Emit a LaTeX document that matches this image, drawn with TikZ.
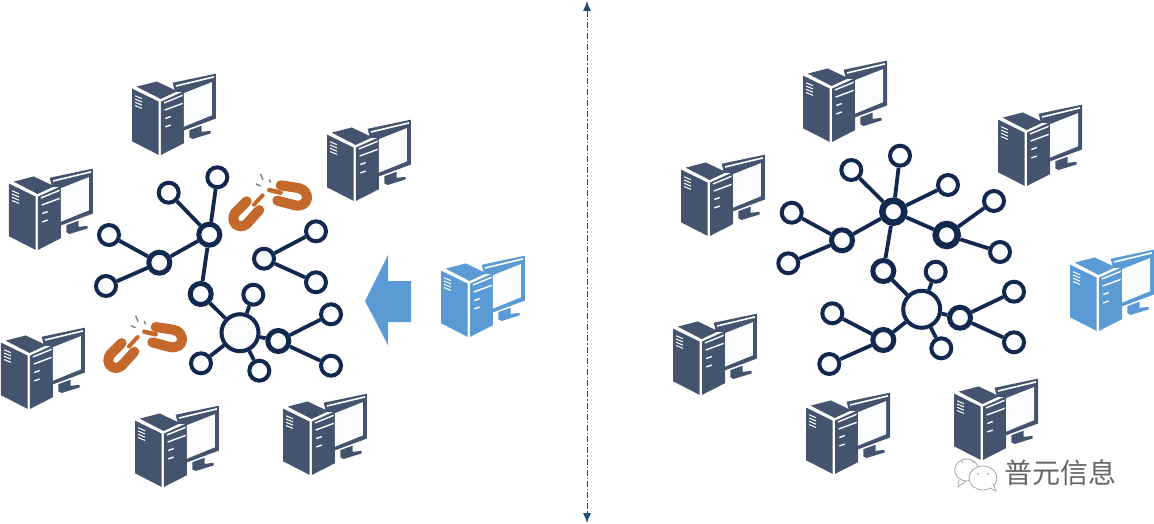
\documentclass[tikz,border=0pt]{standalone}
\usepackage{fontspec}
\newfontfamily\cjkfont{Noto Sans CJK SC}
\usetikzlibrary{arrows.meta}
\definecolor{navy}{HTML}{12284F}
\definecolor{slate}{HTML}{44546F}
\definecolor{skyb}{HTML}{5B9BD5}
\definecolor{rust}{HTML}{C4692B}
\definecolor{inner}{HTML}{FBFCFE}
\definecolor{divider}{HTML}{1F4E79}
\tikzset{
  netnode/.style={circle,draw=navy,fill=inner,line width=4pt,minimum size=20pt,inner sep=0pt},
  hubnode/.style={netnode,minimum size=21pt,line width=5pt},
  thicknode/.style={netnode,minimum size=22pt,line width=6.5pt},
  bignode/.style={netnode,minimum size=37pt,line width=4pt},
  netlink/.style={draw=navy,line width=3.8pt},
  computer/.pic={
    \begin{scope}[x=0.3333pt,y=-0.325pt]
      % tower
      \fill[pic actions] (36,88) -- (116,128) -- (116,292) -- (36,250) -- cycle;
      \fill[pic actions] (50,82) -- (110,66) -- (172,96) -- (122,120) -- cycle;
      \fill[pic actions] (123,128) -- (192,96) -- (192,256) -- (123,292) -- cycle;
      \foreach \yy in {110,120,130,140}
        \draw[white,line width=1pt] (45,\yy) -- (66,\yy+9);
      \draw[white,line width=1.4pt] (132,132) -- (192,107);
      \draw[white,line width=1.4pt] (134,154) -- (192,132);
      \draw[white,line width=1.4pt] (136,180) -- (152,174);
      \draw[white,line width=1.4pt] (136,206) -- (152,200);
      % monitor
      \fill[pic actions] (158,70) -- (288,42) -- (288,180) -- (188,218) -- (188,98) -- (165,98) -- cycle;
      \draw[white,line width=1.6pt] (168,80) -- (282,52);
      \fill[inner] (192,102) -- (276,68) -- (276,170) -- (192,205) -- cycle;
      \fill[pic actions] (208,216) -- (245,202) -- (245,221) -- (272,218) -- (272,226) -- (218,243) -- (208,238) -- cycle;
    \end{scope}
  },
  chainlink/.pic={
    \begin{scope}[x=0.3333pt,y=-0.3333pt]
      \draw[rust,line width=10pt,line cap=round] (470,124) -- (436,158) .. controls (418,184) and (445,212) .. (470,192) -- (508,150);
      \draw[rust,line width=4pt,line cap=round] (492,134) -- (518,106);
      \draw[rust,line width=10pt,line cap=round] (572,76) -- (625,84) .. controls (664,92) and (658,144) .. (615,136) -- (562,122);
      \draw[rust,line width=4.5pt,line cap=round] (538,90) -- (572,98);
      \draw[gray,line width=1.4pt] (512,42) -- (519,60);
      \draw[gray,line width=1.4pt] (498,72) -- (512,78);
      \draw[gray,line width=1.4pt] (538,58) -- (542,68);
    \end{scope}
  }
}
\begin{document}
\begin{tikzpicture}[x=1pt,y=-1pt]
\useasboundingbox (0,0) rectangle (1154,524);
% computers (origin = crop corner)
\foreach \cx/\cy in {120/60,315/106,-3/155,-11/314,123/392,271/380,791/47,986/91,669/141,661/300,794/379,942/365}
  \pic[fill=slate] at (\cx,\cy) {computer};
\foreach \cx/\cy in {429/242,1058/236}
  \pic[fill=skyb] at (\cx,\cy) {computer};
% left network
\node[netnode] (la) at (217.3,177.3) {};
\node[netnode] (lb) at (168.7,192.7) {};
\node[hubnode] (lc) at (209.3,234.7) {};
\node[netnode] (ld) at (109,235) {};
\node[hubnode] (le) at (159.3,262.7) {};
\node[netnode] (lf) at (106,286) {};
\node[hubnode] (lg) at (200.7,294) {};
\node[bignode] (lh) at (240,332.7) {};
\node[netnode] (li) at (253.3,294.7) {};
\node[hubnode] (lj) at (278.3,341) {};
\node[netnode] (lk) at (331,314.3) {};
\node[netnode] (ll) at (331,365.7) {};
\node[netnode] (lm) at (201,363.3) {};
\node[netnode] (ln) at (259.3,370.7) {};
\node[netnode] (lo) at (264,258.7) {};
\node[netnode] (lp) at (316,231.3) {};
\node[netnode] (lq) at (316,282.3) {};
\foreach \s/\t in {lc/la,lc/lb,lc/le,lc/lg,le/ld,le/lf,lg/lh,lh/li,lh/lj,lh/lm,lh/ln,lj/lk,lj/ll,lo/lp,lo/lq}
  \draw[netlink] (\s) -- (\t);
% right network
\node[netnode] (ra) at (900,155.7) {};
\node[netnode] (rb) at (851.3,170) {};
\node[thicknode] (rc) at (893.3,211.7) {};
\node[netnode] (rd) at (948,185) {};
\node[thicknode] (re) at (946.7,235) {};
\node[netnode] (rf) at (994,201) {};
\node[netnode] (rg) at (1000,252) {};
\node[netnode] (rh) at (791.7,212.7) {};
\node[hubnode] (ri) at (842,240.3) {};
\node[netnode] (rj) at (788.3,263.3) {};
\node[hubnode] (rk) at (883.3,271) {};
\node[bignode] (rl) at (921.7,309.3) {};
\node[netnode] (rm) at (935.7,271.7) {};
\node[hubnode] (rn) at (960,317.7) {};
\node[netnode] (ro) at (1014,291.7) {};
\node[netnode] (rp) at (1014,342.3) {};
\node[hubnode] (rq) at (883.3,340) {};
\node[netnode] (rr) at (832.3,313.3) {};
\node[netnode] (rs) at (829.3,364) {};
\node[netnode] (rt) at (941.3,348.3) {};
\foreach \s/\t in {rc/ra,rc/rb,rc/rd,rc/re,rc/ri,rc/rk,re/rf,re/rg,ri/rh,ri/rj,rk/rl,rl/rm,rl/rn,rl/rq,rl/rt,rn/ro,rn/rp,rq/rr,rq/rs}
  \draw[netlink] (\s) -- (\t);
% broken chains
\pic at (90,160) {chainlink};
\pic at (-35,301.7) {chainlink};
% block arrow
\fill[skyb] (411,281) -- (388,281) -- (388,255) -- (365,301) -- (388,345) -- (388,322) -- (411,322) -- cycle;
% divider
\coordinate (dtop) at (587,1);
\coordinate (dbot) at (587,523);
\draw[divider,line width=0.9pt,dash pattern=on 6pt off 2pt on 1.2pt off 2pt,{Latex[length=10pt,width=8pt]}-{Latex[length=10pt,width=8pt]}] (dtop) -- (dbot);
% logo
\begin{scope}[gray!70,line width=0.8pt]
  \draw (966.7,470) ellipse (12pt and 11pt);
  \draw (959,480) -- (958,487) -- (966,481);
  \draw[fill=white] (983,478) ellipse (14pt and 12pt);
  \draw[fill=white] (990,488) -- (996,491) -- (993,484);
  \fill (962,462) circle (1pt) (973,462) circle (1pt) (978,474) circle (1pt) (988,474) circle (1pt);
\end{scope}
\node[inner sep=0pt,text=black!60,font=\cjkfont\fontsize{28}{28}\selectfont] (logo) at (1060,473) {普元信息};
\end{tikzpicture}
\end{document}
